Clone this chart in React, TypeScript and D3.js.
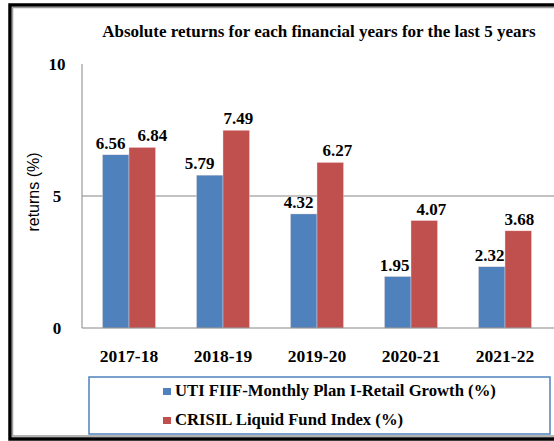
import React from "react";
import * as d3 from "d3";

// values
const years = ["2017-18", "2018-19", "2019-20", "2020-21", "2021-22"];
const fundReturns = [6.56, 5.79, 4.32, 1.95, 2.32];
const indexReturns = [6.84, 7.49, 6.27, 4.07, 3.68];
const seriesNames = [
  "UTI FIIF-Monthly Plan I-Retail Growth (%)",
  "CRISIL Liquid Fund Index (%)",
];
const yTicks = [0, 5, 10];

const colors = ["#4F81BD", "#C0504D"];
const serif = "'Liberation Serif', 'Times New Roman', serif";

// Excel-ish nudges of the value labels (px)
const labelNudge = [
  [-5, -10, -5, -3, -2],
  [10, 2, 7, 7, 1],
];

export default function App() {
  const width = 554;
  const height = 441;
  const margin = { left: 82, right: 2, top: 64, bottom: 113 };

  const x = d3
    .scaleBand()
    .domain(years)
    .range([margin.left, width - margin.right])
    .paddingInner(0.436)
    .paddingOuter(0.218);

  const sub = d3
    .scaleBand()
    .domain(["0", "1"])
    .range([0, x.bandwidth()]);

  const y = d3
    .scaleLinear()
    .domain([0, 10])
    .range([height - margin.bottom, margin.top]);

  const series = [fundReturns, indexReturns];

  return (
    <svg
      width={width}
      height={height}
      style={{ position: "absolute", left: 0, top: 0, background: "#fff" }}
    >
      {/* frame */}
      <rect x={10} y={5} width={570} height={434} fill="none" stroke="#000" strokeWidth={3.5} />
      <rect x={12.5} y={7.5} width={570} height={428.5} fill="none" stroke="#9a9a9a" strokeWidth={1.5} />

      <text
        x={319}
        y={37}
        textAnchor="middle"
        fontFamily={serif}
        fontWeight="bold"
        fontSize={17}
      >
        Absolute returns for each financial years for the last 5 years
      </text>

      {/* grid at 5 */}
      <line
        x1={margin.left}
        x2={width}
        y1={y(5)}
        y2={y(5)}
        stroke="#868686"
        strokeWidth={1}
      />

      {/* bars */}
      {series.map((vals, si) =>
        vals.map((v, i) => (
          <rect
            key={`${si}-${i}`}
            x={(x(years[i]) as number) + (sub(String(si)) as number)}
            y={y(v)}
            width={sub.bandwidth()}
            height={y(0) - y(v)}
            fill={colors[si]}
            stroke="#f2dcdb"
            strokeWidth={0.4}
          />
        ))
      )}

      {/* value labels */}
      {series.map((vals, si) =>
        vals.map((v, i) => (
          <text
            key={`l${si}-${i}`}
            x={
              (x(years[i]) as number) +
              (sub(String(si)) as number) +
              sub.bandwidth() / 2 +
              labelNudge[si][i]
            }
            y={y(v) - 6}
            textAnchor="middle"
            fontFamily={serif}
            fontWeight="bold"
            fontSize={17}
          >
            {v.toFixed(2)}
          </text>
        ))
      )}

      {/* axes */}
      <line x1={margin.left} x2={margin.left} y1={y(10)} y2={y(0)} stroke="#868686" />
      <line x1={margin.left} x2={width} y1={y(0)} y2={y(0)} stroke="#868686" />

      {yTicks.map((t) => (
        <text
          key={t}
          x={57}
          y={y(t) + 6}
          textAnchor="middle"
          fontFamily={serif}
          fontWeight="bold"
          fontSize={17}
        >
          {t}
        </text>
      ))}

      <text
        transform={`translate(39,${y(5) - 4}) rotate(-90)`}
        textAnchor="middle"
        fontFamily="'Liberation Sans', Arial, sans-serif"
        fontSize={16}
      >
        returns (%)
      </text>

      {years.map((yr) => (
        <text
          key={yr}
          x={(x(yr) as number) + x.bandwidth() / 2}
          y={362}
          textAnchor="middle"
          fontFamily={serif}
          fontWeight="bold"
          fontSize={17.5}
        >
          {yr}
        </text>
      ))}

      {/* legend */}
      <rect x={89} y={377} width={461} height={57} fill="#fff" stroke="#4F81BD" strokeWidth={1.5} />
      {seriesNames.map((name, i) => (
        <g key={name} transform={`translate(163,${388 + i * 29})`}>
          <rect width={8} height={7} fill={colors[i]} />
          <text x={12} y={8} fontFamily={serif} fontWeight="bold" fontSize={16.7}>
            {name}
          </text>
        </g>
      ))}
    </svg>
  );
}
